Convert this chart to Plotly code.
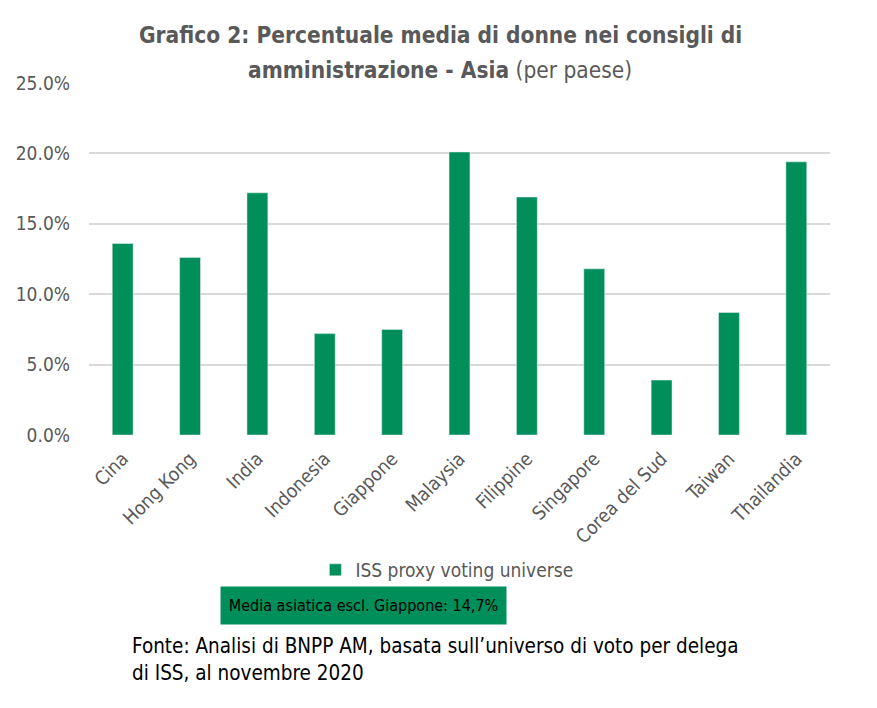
import plotly.graph_objects as go

paesi = ["Cina", "Hong Kong", "India", "Indonesia", "Giappone", "Malaysia",
         "Filippine", "Singapore", "Corea del Sud", "Taiwan", "Thailandia"]
quota_donne = [0.136, 0.126, 0.172, 0.072, 0.075, 0.201,
               0.169, 0.118, 0.039, 0.087, 0.194]

verde = "#008F5A"
grigio = "#595959"
font_narrow = "Liberation Sans Narrow, DejaVu Sans Condensed, Arial Narrow, Liberation Sans, sans-serif"

fig = go.Figure()
fig.add_trace(go.Bar(x=paesi, y=quota_donne, name="ISS proxy voting universe",
                     marker=dict(color=verde)))

fig.update_layout(
    width=877, height=708,
    margin=dict(l=81, r=55, t=75, b=281),
    paper_bgcolor="white", plot_bgcolor="white",
    bargap=0.69,
    font=dict(family=font_narrow, color=grigio, size=18),
    showlegend=True,
    legend=dict(orientation="h", x=0.483, xanchor="center", xref="paper",
                y=1 - 562 / 708, yref="container", yanchor="middle",
                font=dict(size=19, color=grigio)),
)

fig.update_xaxes(tickangle=-45, tickfont=dict(size=19, color=grigio),
                 showline=False, ticks="", ticklabelstandoff=8, automargin=False)
fig.update_yaxes(range=[0, 0.25], dtick=0.05, tickformat=".1%",
                 gridcolor="#d9d9d9", gridwidth=1.5, zeroline=False,
                 tickfont=dict(size=19, color=grigio), ticks="",
                 ticklabelstandoff=18, automargin=False)

# titolo su due righe
fig.add_annotation(
    text="<b>Grafico 2: Percentuale media di donne nei consigli di</b>",
    xref="paper", yref="paper", x=0.4737, y=1.136, xanchor="center", yanchor="middle",
    showarrow=False, font=dict(size=22.5, color=grigio, family=font_narrow))
fig.add_annotation(
    text="<b>amministrazione - Asia</b> (per paese)",
    xref="paper", yref="paper", x=0.4737, y=1.037, xanchor="center", yanchor="middle",
    showarrow=False, font=dict(size=22.5, color=grigio, family=font_narrow))

fig.add_annotation(
    text="Media asiatica escl. Giappone: 14,7%",
    xref="paper", yref="paper", x=0.3704, y=-0.484, xanchor="center", yanchor="middle",
    showarrow=False, bgcolor=verde, width=281, height=33, borderpad=2,
    font=dict(size=16, color="black", family=font_narrow))

fig.add_annotation(
    text="Fonte: Analisi di BNPP AM, basata sull\u2019universo di voto per delega<br>"
         "di ISS, al novembre 2020",
    xref="paper", yref="paper", x=0.0553, y=-0.56, xanchor="left", yanchor="top",
    showarrow=False, align="left",
    font=dict(size=20.5, color="black", family=font_narrow))

fig.write_html("out.html")
